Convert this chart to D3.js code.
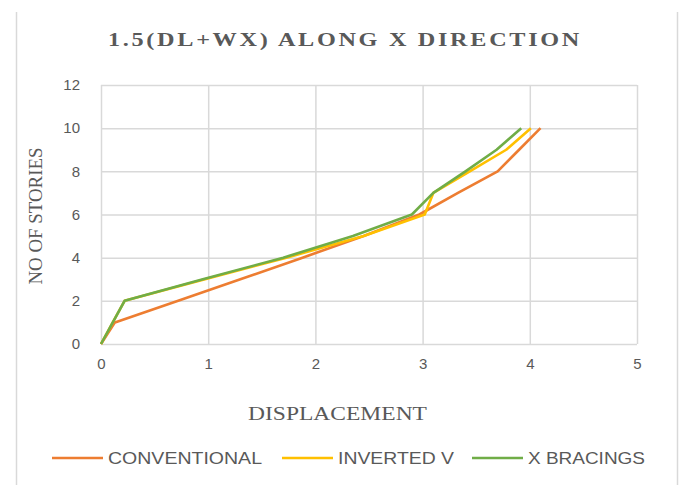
<!DOCTYPE html>
<html>
<head>
<meta charset="utf-8">
<script src="https://cdn.jsdelivr.net/npm/d3@7"></script>
<style>
  body { margin: 0; background: #fff; }
</style>
</head>
<body>
<div id="chart"></div>
<script>
// story numbers (y values)
var stories = [0, 1, 2, 3, 4, 5, 6, 7, 8, 9, 10];
// displacement of each series at each story
var conventional = [0, 0.13, 0.72, 1.3, 1.88, 2.45, 2.97, 3.33, 3.7, 3.9, 4.1];
var invertedV = [0, 0.11, 0.22, 0.97, 1.73, 2.45, 3.02, 3.1, 3.44, 3.78, 4.01];
var xBracings = [0, 0.11, 0.22, 0.95, 1.7, 2.35, 2.9, 3.1, 3.4, 3.69, 3.92];

var seriesNames = ["CONVENTIONAL", "INVERTED V", "X BRACINGS"];
var seriesColors = ["#ED7D31", "#FFC000", "#70AD47"];
var xTicks = [0, 1, 2, 3, 4, 5];
var yTicks = [0, 2, 4, 6, 8, 10, 12];

var w = 681, h = 485;
var margin = { top: 85, right: 44, bottom: 141, left: 101 };
var innerWidth = w - margin.left - margin.right;
var innerHeight = h - margin.top - margin.bottom;

var sans = "'Liberation Sans', Arial, sans-serif";
var serif = "'Liberation Serif', 'Times New Roman', serif";

var svg = d3.select("#chart").append("svg")
  .attr("width", w)
  .attr("height", h);

// chart frame edges
svg.append("line").attr("x1", 16.5).attr("x2", 16.5).attr("y1", 12).attr("y2", h)
  .attr("stroke", "#d9d9d9").attr("stroke-width", 1.5);
svg.append("line").attr("x1", 677.5).attr("x2", 677.5).attr("y1", 12).attr("y2", h)
  .attr("stroke", "#d9d9d9").attr("stroke-width", 1.5);

var xScale = d3.scaleLinear().domain([0, 5]).range([0, innerWidth]);
var yScale = d3.scaleLinear().domain([0, 12]).range([innerHeight, 0]);

var g = svg.append("g")
  .attr("transform", "translate(" + margin.left + "," + margin.top + ")");

// gridlines
g.append("g")
  .call(d3.axisLeft(yScale).tickValues(yTicks).tickSize(-innerWidth).tickFormat(""))
  .call(s => s.select(".domain").remove())
  .call(s => s.selectAll("line").attr("stroke", "#d9d9d9").attr("stroke-width", 1.5));
g.append("g")
  .attr("transform", "translate(0," + innerHeight + ")")
  .call(d3.axisBottom(xScale).tickValues(xTicks).tickSize(-innerHeight).tickFormat(""))
  .call(s => s.select(".domain").remove())
  .call(s => s.selectAll("line").attr("stroke", "#d9d9d9").attr("stroke-width", 1.5));

// tick labels
g.append("g")
  .call(d3.axisLeft(yScale).tickValues(yTicks).tickSize(0).tickPadding(21).tickFormat(d3.format("d")))
  .call(s => s.select(".domain").remove())
  .call(s => s.selectAll("text")
    .attr("font-family", sans)
    .attr("font-size", "15px").attr("fill", "#595959"));
g.append("g")
  .attr("transform", "translate(0," + innerHeight + ")")
  .call(d3.axisBottom(xScale).tickValues(xTicks).tickSize(0).tickPadding(14).tickFormat(d3.format("d")))
  .call(s => s.select(".domain").remove())
  .call(s => s.selectAll("text")
    .attr("font-family", sans)
    .attr("font-size", "15px").attr("fill", "#595959"));

// lines
var allSeries = [conventional, invertedV, xBracings];
var line = d3.line()
  .x(d => xScale(d[0]))
  .y(d => yScale(d[1]));

allSeries.forEach(function(vals, i) {
  g.append("path")
    .datum(vals.map((v, j) => [v, stories[j]]))
    .attr("fill", "none")
    .attr("stroke", seriesColors[i])
    .attr("stroke-width", 2.6)
    .attr("stroke-linejoin", "round")
    .attr("d", line);
});

// title
svg.append("text")
  .attr("x", 108)
  .attr("y", 46)
  .attr("font-family", serif)
  .attr("font-weight", "bold")
  .attr("font-size", "18px")
  .attr("letter-spacing", "2px")
  .attr("textLength", 474)
  .attr("lengthAdjust", "spacingAndGlyphs")
  .attr("fill", "#595959")
  .text("1.5(DL+WX) ALONG X DIRECTION");

// axis titles
svg.append("text")
  .attr("x", 248)
  .attr("y", 420)
  .attr("font-family", serif)
  .attr("font-size", "19px")
  .attr("textLength", 179)
  .attr("lengthAdjust", "spacingAndGlyphs")
  .attr("fill", "#595959")
  .text("DISPLACEMENT");

svg.append("text")
  .attr("transform", "translate(42,216) rotate(-90)")
  .attr("text-anchor", "middle")
  .attr("font-family", serif)
  .attr("font-size", "19px")
  .attr("textLength", 137)
  .attr("lengthAdjust", "spacingAndGlyphs")
  .attr("fill", "#595959")
  .text("NO OF STORIES");

// legend
var legendX = [52, 282, 472];
var legendLen = [154, 116, 117];
var legend = svg.selectAll(".legend")
  .data(seriesNames)
  .enter().append("g")
  .attr("class", "legend")
  .attr("transform", (d, i) => "translate(" + legendX[i] + ",458)");

legend.append("line")
  .attr("x1", 0).attr("x2", 51)
  .attr("stroke", (d, i) => seriesColors[i])
  .attr("stroke-width", 2.6);

legend.append("text")
  .attr("x", 56)
  .attr("dy", ".35em")
  .attr("font-family", sans)
  .attr("font-size", "17px")
  .attr("textLength", (d, i) => legendLen[i])
  .attr("lengthAdjust", "spacingAndGlyphs")
  .attr("fill", "#595959")
  .text(d => d);
</script>
</body>
</html>
